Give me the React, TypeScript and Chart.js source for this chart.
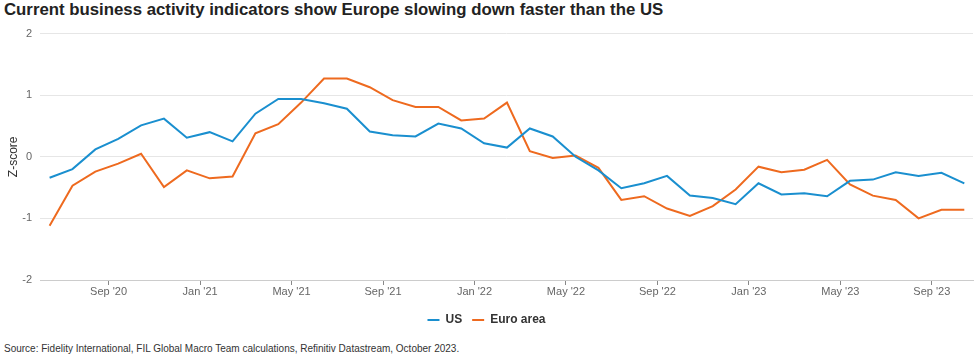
import React, { useEffect, useRef } from "react";
import { Chart, registerables } from "chart.js";

Chart.register(...registerables);

// Months since Jan 2020 (Jun 2020 = 5 ... Oct 2023 = 45)
const startMonth = 5;
const usValues = [
  -0.34, -0.2, 0.12, 0.29, 0.51, 0.62, 0.31,
  0.4, 0.25, 0.7, 0.94, 0.94, 0.87, 0.78, 0.41, 0.35, 0.33, 0.54, 0.46,
  0.22, 0.15, 0.46, 0.33, 0.0, -0.22, -0.51, -0.43, -0.31, -0.63, -0.67, -0.77,
  -0.43, -0.61, -0.59, -0.64, -0.39, -0.37, -0.25, -0.31, -0.26, -0.43,
];
const euroValues = [
  -1.12, -0.47, -0.24, -0.11, 0.05, -0.49, -0.22,
  -0.35, -0.32, 0.38, 0.53, 0.88, 1.27, 1.27, 1.13, 0.92, 0.81, 0.81, 0.59,
  0.62, 0.88, 0.09, -0.02, 0.02, -0.18, -0.7, -0.64, -0.84, -0.96, -0.8, -0.53,
  -0.16, -0.25, -0.21, -0.05, -0.45, -0.63, -0.7, -1.0, -0.86, -0.86,
];
const tickMonths = [8, 12, 16, 20, 24, 28, 32, 36, 40, 44];
const monthNames = ["Jan", "Feb", "Mar", "Apr", "May", "Jun", "Jul", "Aug", "Sep", "Oct", "Nov", "Dec"];
const yTicks = [-2, -1, 0, 1, 2];

const US_COLOR = "#1a8fcf";
const EURO_COLOR = "#ee6a1f";
const FONT = "'Liberation Sans', Arial, sans-serif";

function toPoints(vals: number[]) {
  return vals.map((v, i) => ({ x: startMonth + i + 0.42, y: v }));
}

function monthLabel(m: number) {
  const yr = 2020 + Math.floor(m / 12);
  return `${monthNames[m % 12]} '${String(yr % 100).padStart(2, "0")}`;
}

export default function App() {
  const ref = useRef<HTMLCanvasElement>(null);
  useEffect(() => {
    if (!ref.current) return;
    const chart = new Chart(ref.current, {
      type: "line",
      data: {
        datasets: [
          {
            label: "US",
            data: toPoints(usValues),
            borderColor: US_COLOR,
            backgroundColor: US_COLOR,
            borderWidth: 2,
            pointRadius: 0,
            tension: 0,
          },
          {
            label: "Euro area",
            data: toPoints(euroValues),
            borderColor: EURO_COLOR,
            backgroundColor: EURO_COLOR,
            borderWidth: 2,
            pointRadius: 0,
            tension: 0,
          },
        ],
      },
      options: {
        animation: false,
        responsive: false,
        maintainAspectRatio: false,
        layout: { padding: { top: 0, right: 2, left: 0, bottom: 0 } },
        plugins: {
          tooltip: { enabled: false },
          legend: {
            position: "bottom",
            labels: {
              font: { family: FONT, size: 12, weight: "bold" },
              color: "#333",
              boxWidth: 12,
              boxHeight: 2,
              padding: 10,
              generateLabels: (c: any) => {
                const items = Chart.defaults.plugins.legend.labels.generateLabels(c);
                return items.map((it: any) => ({ ...it, lineWidth: 0, strokeStyle: "transparent" }));
              },
            },
          },
        },
        scales: {
          x: {
            type: "linear",
            min: 5,
            max: 45.8,
            afterBuildTicks: (scale: any) => {
              scale.ticks = tickMonths.map((v) => ({ value: v }));
            },
            afterFit: (scale: any) => {
              scale.height = 24;
            },
            ticks: {
              autoSkip: false,
              maxRotation: 0,
              padding: 0,
              color: "#666",
              font: { family: FONT, size: 11 },
              callback: (v: any) => monthLabel(Number(v)),
            },
            grid: {
              drawOnChartArea: false,
              drawTicks: true,
              tickLength: 5,
              color: "#888",
            },
            border: { display: true, color: "#ccc", width: 1 },
          },
          y: {
            min: -2,
            max: 2,
            afterBuildTicks: (scale: any) => {
              scale.ticks = yTicks.map((v) => ({ value: v }));
            },
            afterFit: (scale: any) => {
              scale.width = 40;
            },
            ticks: {
              color: "#666",
              padding: 8,
              font: { family: FONT, size: 11 },
              callback: (v: any) => String(v),
            },
            grid: { color: "#e6e6e6", drawTicks: false, lineWidth: 1 },
            border: { display: false },
            title: {
              display: true,
              text: "Z-score",
              color: "#333",
              font: { family: FONT, size: 12 },
              padding: { top: 6, bottom: 0 },
            },
          },
        },
      },
    });
    return () => chart.destroy();
  }, []);

  return (
    <div style={{ position: "absolute", left: 0, top: 0, width: 975, height: 360, background: "#fff", fontFamily: FONT }}>
      <div style={{ position: "absolute", left: 4, top: 0, fontSize: 16.8, fontWeight: "bold", color: "#222", whiteSpace: "nowrap" }}>
        Current business activity indicators show Europe slowing down faster than the US
      </div>
      <canvas ref={ref} width={975} height={317} style={{ position: "absolute", left: 0, top: 19, width: 975, height: 317 }} />
      <div style={{ position: "absolute", left: 4, top: 343, fontSize: 10, color: "#333", whiteSpace: "nowrap" }}>
        Source: Fidelity International, FIL Global Macro Team calculations, Refinitiv Datastream, October 2023.
      </div>
    </div>
  );
}
